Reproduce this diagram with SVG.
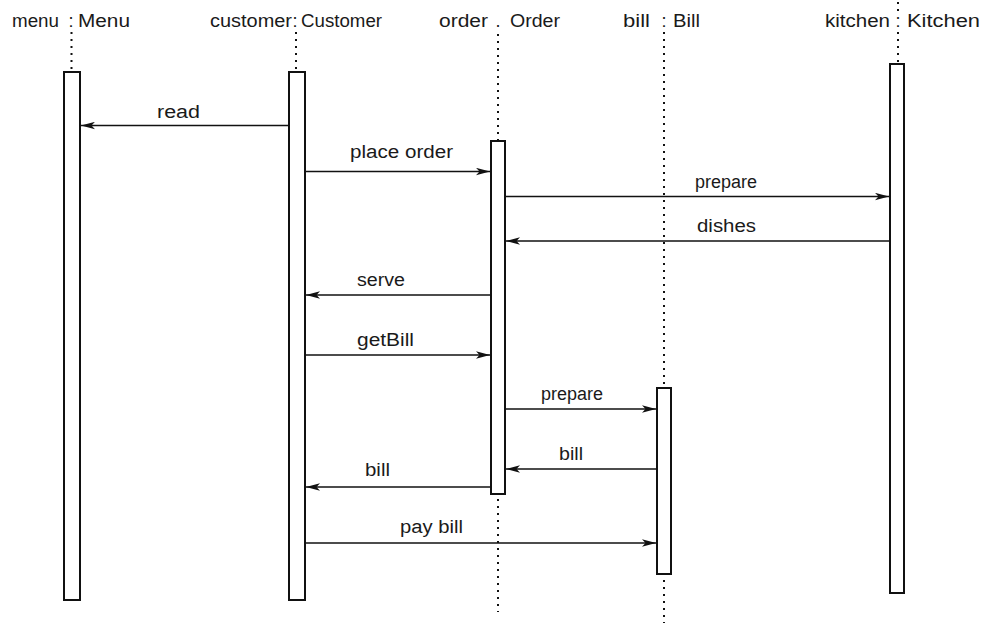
<svg xmlns="http://www.w3.org/2000/svg" width="982" height="623" viewBox="0 0 982 623">
  <style>
    text { font-family: "Liberation Sans", Arial, sans-serif; font-size: 18px; fill: #1a1a1a; }
    .act { fill: #fff; stroke: #111; stroke-width: 2; }
    .life { stroke: #111; stroke-width: 2; stroke-dasharray: 2 5; fill: none; }
    .msg { stroke: #111; stroke-width: 1.7; fill: none; marker-end: url(#arrow); }
  </style>
  <defs>
    <marker id="arrow" viewBox="0 0 14 8" refX="14" refY="4" markerWidth="14" markerHeight="8" markerUnits="userSpaceOnUse" orient="auto">
      <path d="M0,0.3 L14,4 L0,7.7 L3.5,4 Z" fill="#111"/>
    </marker>
  </defs>
  <rect width="982" height="623" fill="#fff"/>

  <!-- lifelines and activation bars -->
  <g id="menu">
    <text x="12" y="27" textLength="47" lengthAdjust="spacingAndGlyphs">menu</text>
    <text x="71" y="27" text-anchor="middle">:</text>
    <text x="78" y="27" textLength="52" lengthAdjust="spacingAndGlyphs">Menu</text>
    <line class="life" x1="71.5" y1="32" x2="71.5" y2="72"/>
    <rect class="act" x="64" y="72" width="16" height="528"/>
  </g>
  <g id="customer">
    <text x="210" y="27" textLength="82" lengthAdjust="spacingAndGlyphs">customer</text>
    <text x="295" y="27" text-anchor="middle">:</text>
    <text x="301" y="27" textLength="81" lengthAdjust="spacingAndGlyphs">Customer</text>
    <line class="life" x1="296" y1="32" x2="296" y2="72"/>
    <rect class="act" x="289" y="72" width="16" height="528"/>
  </g>
  <g id="order">
    <text x="439" y="27" textLength="49" lengthAdjust="spacingAndGlyphs">order</text>
    <text x="498" y="27" text-anchor="middle">.</text>
    <text x="510" y="27" textLength="50" lengthAdjust="spacingAndGlyphs">Order</text>
    <line class="life" x1="498" y1="34" x2="498" y2="141"/>
    <rect class="act" x="491" y="141" width="14" height="353"/>
    <line class="life" x1="498" y1="499" x2="498" y2="612"/>
  </g>
  <g id="bill">
    <text x="623" y="27" textLength="27" lengthAdjust="spacingAndGlyphs">bill</text>
    <text x="664" y="27" text-anchor="middle">:</text>
    <text x="673" y="27" textLength="27" lengthAdjust="spacingAndGlyphs">Bill</text>
    <line class="life" x1="664" y1="32" x2="664" y2="388"/>
    <rect class="act" x="657" y="388" width="14" height="186"/>
    <line class="life" x1="664" y1="580" x2="664" y2="623"/>
  </g>
  <g id="kitchen">
    <text x="825" y="27" textLength="65" lengthAdjust="spacingAndGlyphs">kitchen</text>
    <text x="898" y="27" text-anchor="middle">:</text>
    <text x="907" y="27" textLength="73" lengthAdjust="spacingAndGlyphs">Kitchen</text>
    <line class="life" x1="898" y1="2" x2="898" y2="12"/>
    <line class="life" x1="898" y1="32" x2="898" y2="64"/>
    <rect class="act" x="890" y="64" width="14" height="529"/>
  </g>

  <!-- messages -->
  <g id="connectors">
    <line class="msg" x1="289" y1="125.5" x2="81" y2="125.5"/>
    <text x="157" y="118" textLength="43" lengthAdjust="spacingAndGlyphs">read</text>

    <line class="msg" x1="305" y1="171.5" x2="490" y2="171.5"/>
    <text x="350" y="158" textLength="103" lengthAdjust="spacingAndGlyphs">place order</text>

    <line class="msg" x1="505" y1="196.5" x2="889" y2="196.5"/>
    <text x="695" y="188" textLength="62" lengthAdjust="spacingAndGlyphs">prepare</text>

    <line class="msg" x1="890" y1="241" x2="506" y2="241"/>
    <text x="697" y="232" textLength="59" lengthAdjust="spacingAndGlyphs">dishes</text>

    <line class="msg" x1="491" y1="295" x2="306" y2="295"/>
    <text x="357" y="286" textLength="48" lengthAdjust="spacingAndGlyphs">serve</text>

    <line class="msg" x1="305" y1="355" x2="490" y2="355"/>
    <text x="357" y="346" textLength="57" lengthAdjust="spacingAndGlyphs">getBill</text>

    <line class="msg" x1="505" y1="409" x2="656" y2="409"/>
    <text x="541" y="400" textLength="62" lengthAdjust="spacingAndGlyphs">prepare</text>

    <line class="msg" x1="657" y1="469" x2="506" y2="469"/>
    <text x="559" y="460" textLength="24" lengthAdjust="spacingAndGlyphs">bill</text>

    <line class="msg" x1="491" y1="487" x2="306" y2="487"/>
    <text x="365" y="476" textLength="25" lengthAdjust="spacingAndGlyphs">bill</text>

    <line class="msg" x1="305" y1="543" x2="656" y2="543"/>
    <text x="400" y="533" textLength="63" lengthAdjust="spacingAndGlyphs">pay bill</text>
  </g>
</svg>
